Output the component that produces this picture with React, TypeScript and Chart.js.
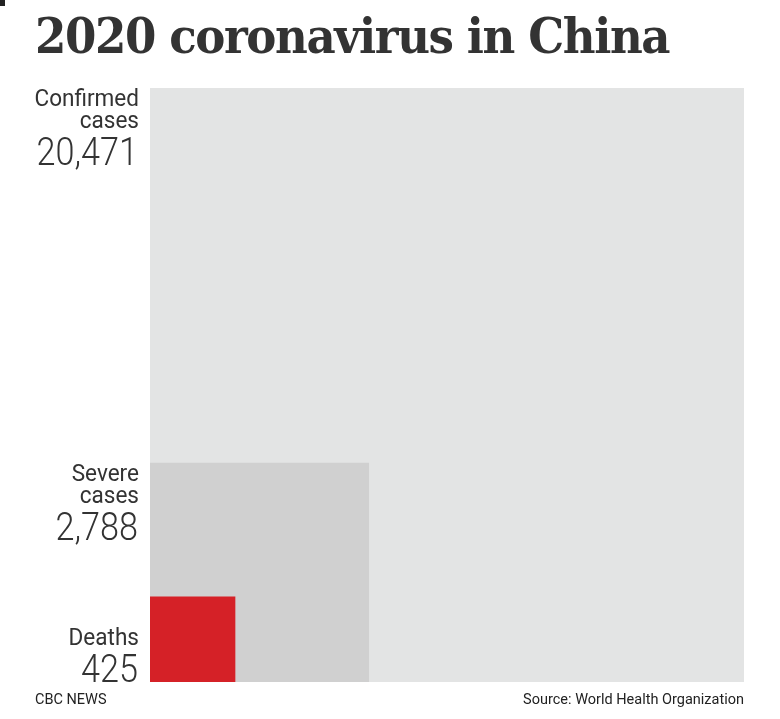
import React, { useEffect, useRef } from "react";
import { Chart, registerables } from "chart.js";

Chart.register(...registerables);

const TITLE = "2020 coronavirus in China";
const CATEGORIES = ["Confirmed cases", "Severe cases", "Deaths"];
const LABEL_LINES = [["Confirmed", "cases"], ["Severe", "cases"], ["Deaths"]];
const VALUES = [20471, 2788, 425];
const COLORS = ["#e3e4e4", "#d0d0d0", "#d52127"];
const CREDIT = "CBC NEWS";
const SOURCE = "Source: World Health Organization";

const fmt = (v: number) => v.toLocaleString("en-US");

const labelPlugin = {
  id: "squareLabels",
  afterDatasetsDraw(chart: any) {
    const { ctx } = chart;
    const xs = chart.scales.x;
    const ys = chart.scales.y;
    const right = xs.left - 11;
    ctx.save();
    ctx.fillStyle = "#333333";
    ctx.textAlign = "right";
    ctx.textBaseline = "alphabetic";
    VALUES.forEach((v, i) => {
      const side = Math.sqrt(v);
      const topPx = ys.getPixelForValue(side);
      const botPx = ys.getPixelForValue(0);
      const lines = LABEL_LINES[i];
      const big = botPx - topPx > 120;
      let baseY: number[] = [];
      let numY: number;
      if (big) {
        lines.forEach((_, j) => baseY.push(topPx + 18 + j * 22));
        numY = topPx + 18 + (lines.length - 1) * 22 + 37;
      } else {
        numY = botPx;
        lines.forEach((_, j) => baseY.push(botPx - 37 - (lines.length - 1 - j) * 22));
      }
      ctx.font = "400 23px Roboto, 'Noto Sans', sans-serif";
      lines.forEach((t, j) => {
        const w = ctx.measureText(t).width;
        ctx.fillText(t, right, baseY[j], w * 0.98);
      });
      ctx.font = "300 38px Roboto, 'Noto Sans', sans-serif";
      const s = fmt(v);
      const w = ctx.measureText(s).width;
      ctx.fillText(s, right - 1, numY, w * 0.9);
    });
    ctx.restore();
  },
};

export default function App() {
  const ref = useRef<HTMLCanvasElement | null>(null);
  useEffect(() => {
    if (!ref.current) return;
    const maxSide = Math.sqrt(Math.max(...VALUES));
    const chart = new Chart(ref.current, {
      type: "line",
      data: {
        datasets: VALUES.map((v, i) => {
          const s = Math.sqrt(v);
          return {
            label: CATEGORIES[i],
            data: [
              { x: 0, y: s },
              { x: s, y: s },
            ],
            fill: "origin",
            backgroundColor: COLORS[i],
            borderColor: COLORS[i],
            borderWidth: 0,
            pointRadius: 0,
            tension: 0,
            order: -i,
          };
        }),
      },
      options: {
        animation: false,
        responsive: false,
        maintainAspectRatio: false,
        layout: { padding: { left: 150, right: 36, top: 88, bottom: 37 } },
        plugins: {
          legend: { display: false },
          tooltip: { enabled: false },
          title: { display: false },
        },
        scales: {
          x: { type: "linear", min: 0, max: maxSide, display: false },
          y: { type: "linear", min: 0, max: maxSide, display: false },
        },
      },
      plugins: [labelPlugin],
    });
    return () => chart.destroy();
  }, []);

  return (
    <div style={{ position: "absolute", left: 0, top: 0, width: 780, height: 719, background: "#fff", overflow: "hidden" }}>
      <div style={{ position: "absolute", left: 0, top: 0, width: 5, height: 6, background: "#222" }} />
      <canvas ref={ref} width={780} height={719} style={{ position: "absolute", left: 0, top: 0, width: 780, height: 719 }} />
      <div
        style={{
          position: "absolute",
          left: 35,
          top: 4,
          fontFamily: "'DejaVu Serif', serif",
          fontWeight: 700,
          fontSize: 48,
          lineHeight: "64px",
          color: "#333333",
          whiteSpace: "nowrap",
          letterSpacing: -1.5,
          transformOrigin: "left top",
          transform: "scaleX(0.94)",
        }}
      >
        {TITLE}
      </div>
      <div
        style={{
          position: "absolute",
          left: 35,
          top: 691,
          fontFamily: "Roboto, sans-serif",
          fontSize: 14.5,
          color: "#222",
          whiteSpace: "nowrap",
        }}
      >
        {CREDIT}
      </div>
      <div
        style={{
          position: "absolute",
          right: 36,
          top: 691,
          fontFamily: "Roboto, sans-serif",
          fontSize: 14.5,
          color: "#222",
          whiteSpace: "nowrap",
        }}
      >
        {SOURCE}
      </div>
    </div>
  );
}
